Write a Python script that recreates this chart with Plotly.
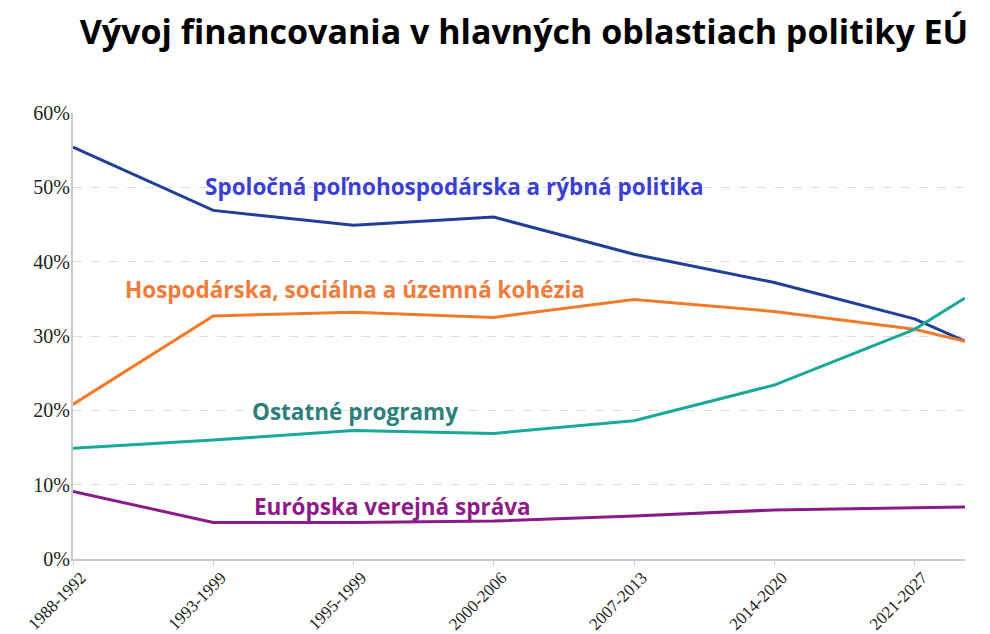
import plotly.graph_objects as go

# obdobia (posledný bod bez popisu)
periods = ['1988-1992', '1993-1999', '1995-1999', '2000-2006',
           '2007-2013', '2014-2020', '2021-2027']
x_pos = [0, 1, 2, 3, 4, 5, 6, 6.36]

spolocna = [55.4, 46.9, 44.9, 46.0, 41.0, 37.2, 32.3, 29.3]
kohezia = [20.8, 32.7, 33.2, 32.5, 34.9, 33.3, 30.9, 29.3]
ostatne = [14.9, 16.0, 17.3, 16.9, 18.6, 23.4, 30.9, 35.1]
sprava = [9.1, 4.9, 4.9, 5.1, 5.8, 6.6, 6.9, 7.0]

series = [
    ('Spoločná poľnohospodárska a rýbná politika', spolocna, '#1f3f99', '#3b3fd2', 2.72, 50.1),
    ('Hospodárska, sociálna a územná kohézia', kohezia, '#f47a2a', '#f07b3a', 2.01, 36.3),
    ('Ostatné programy', ostatne, '#1aa89a', '#2e7f7a', 2.01, 19.8),
    ('Európska verejná správa', sprava, '#8b1a89', '#8e1a8a', 2.28, 7.1),
]

fig = go.Figure()
for name, vals, col, lab_col, lx, ly in series:
    fig.add_trace(go.Scatter(x=x_pos, y=vals, mode='lines', name=name,
                             line=dict(color=col, width=3)))
    fig.add_annotation(x=lx, y=ly, text='<b>' + name + '</b>', showarrow=False,
                       xanchor='center', yanchor='middle',
                       font=dict(family='Open Sans', size=22.5, color=lab_col))

# stránka má okraj 8 px, preto je graf o 8 px menší
fig.update_layout(
    width=982, height=626,
    margin=dict(l=65, r=25, t=105, b=75),
    paper_bgcolor='white', plot_bgcolor='white',
    showlegend=False,
    title=dict(text='<b>Vývoj financovania v hlavných oblastiach politiky EÚ</b>',
               x=0.5255, xanchor='center', y=0.961, yanchor='middle',
               font=dict(family='Open Sans', size=34, color='black')),
)
fig.update_xaxes(range=[0, 6.36], tickvals=list(range(len(periods))), ticktext=periods,
                 tickangle=-45, showgrid=False, showline=True, linecolor='#c8c8c8',
                 linewidth=2, ticks='outside', tickcolor='#c8c8c8', ticklen=4,
                 ticklabelstandoff=-4, ticklabelshift=8, automargin=False,
                 tickfont=dict(family='Liberation Serif', size=17, color='#222'))
fig.update_yaxes(range=[0, 60], dtick=10, ticksuffix='%', showgrid=True,
                 gridcolor='#dcdcdc', griddash='dash', gridwidth=1,
                 showline=True, linecolor='#c8c8c8', linewidth=2, zeroline=False,
                 ticklabelstandoff=-3, automargin=False,
                 tickfont=dict(family='Liberation Serif', size=20, color='#222'))

fig.write_html('out.html')
